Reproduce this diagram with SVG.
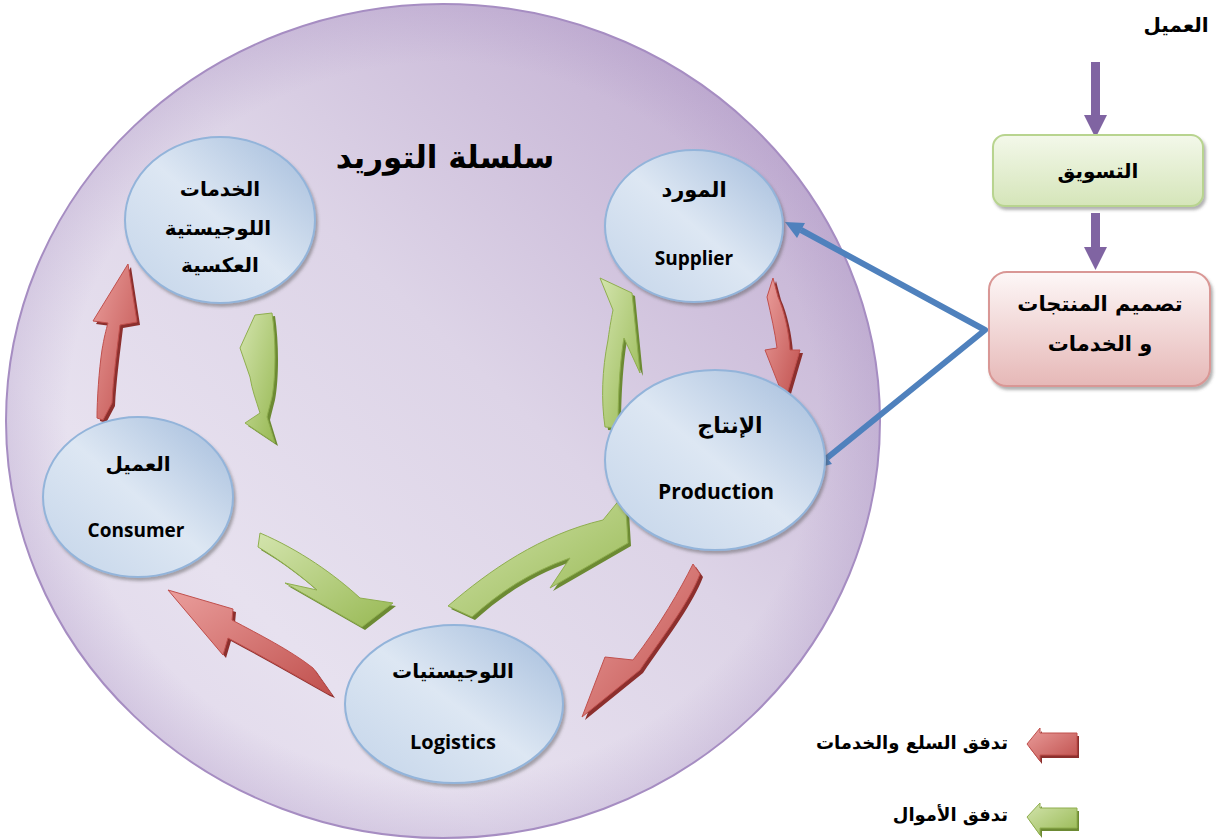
<svg xmlns="http://www.w3.org/2000/svg" width="1219" height="840" viewBox="0 0 1219 840">
  <style>
    .ar { font-family: "DejaVu Sans", "Noto Sans", sans-serif; font-weight: bold; fill: #000; text-anchor: middle; }
    .en { font-family: "Open Sans", "Liberation Sans", sans-serif; font-weight: bold; fill: #000; text-anchor: middle; }
    .node { fill: url(#nodeFill); stroke: #93b4da; stroke-width: 2; filter: url(#soft); }
    .red { fill: url(#redFill); stroke: #c0504d; stroke-width: 1; }
    .redShade { fill: #8c2f2d; }
    .green { fill: url(#greenFill); stroke: #8fae4f; stroke-width: 1; }
    .greenShade { fill: #6c8a33; }
    .purple { fill: #8064a2; }
    .blueLine { stroke: #4f81bd; stroke-width: 6; fill: none; stroke-linecap: butt; stroke-linejoin: round; }
    .blueHead { fill: #4f81bd; }
  </style>
  <defs>
    <linearGradient id="bigFill" x1="1" y1="0" x2="0" y2="1">
      <stop offset="0" stop-color="#b9a2cb"/>
      <stop offset="0.45" stop-color="#ddd4e7"/>
      <stop offset="0.72" stop-color="#e7e1ef"/>
      <stop offset="1" stop-color="#ddd3e8"/>
    </linearGradient>
    <radialGradient id="rimShade" cx="0.5" cy="0.5" r="0.5">
      <stop offset="0.86" stop-color="#a58cc0" stop-opacity="0"/>
      <stop offset="1" stop-color="#a58cc0" stop-opacity="0.25"/>
    </radialGradient>
    <linearGradient id="nodeFill" x1="1" y1="0" x2="0" y2="1">
      <stop offset="0" stop-color="#a2bbdb"/>
      <stop offset="0.5" stop-color="#dde7f3"/>
      <stop offset="1" stop-color="#c3d4e9"/>
    </linearGradient>
    <linearGradient id="redFill" x1="0" y1="0" x2="1" y2="1">
      <stop offset="0" stop-color="#ea9e9c"/>
      <stop offset="1" stop-color="#c0504d"/>
    </linearGradient>
    <linearGradient id="greenFill" x1="0" y1="0" x2="1" y2="1">
      <stop offset="0" stop-color="#d3e4ad"/>
      <stop offset="1" stop-color="#98b954"/>
    </linearGradient>
    <linearGradient id="mktFill" x1="0" y1="0" x2="0" y2="1">
      <stop offset="0" stop-color="#f3f8ea"/>
      <stop offset="1" stop-color="#d5e5b9"/>
    </linearGradient>
    <linearGradient id="designFill" x1="0" y1="0" x2="0" y2="1">
      <stop offset="0" stop-color="#fdf7f7"/>
      <stop offset="1" stop-color="#e6b8b7"/>
    </linearGradient>
    <filter id="soft" x="-20%" y="-20%" width="140%" height="140%">
      <feDropShadow dx="2" dy="3" stdDeviation="1.5" flood-color="#555" flood-opacity="0.45"/>
    </filter>
  </defs>

  <!-- supply chain boundary -->
  <g id="supply-chain">
    <ellipse cx="443" cy="421" rx="437" ry="417" fill="url(#bigFill)"/>
    <ellipse cx="443" cy="421" rx="437" ry="417" fill="url(#rimShade)" stroke="#a68dc2" stroke-width="2"/>
    <text class="ar" x="445" y="168" font-size="31">سلسلة التوريد</text>
  </g>

  <!-- flow arrows -->
  <g id="connectors">
    <!-- money flow (green) -->
    <g transform="translate(3,3)">
      <path class="greenShade" d="M600,278 L632,293 L640,373 L624,338 C620,360 618,395 618,428 L605,427 C601,400 602,370 608,340 C610,325 612,315 613,310 Z"/>
      <path class="greenShade" d="M448,606 C490,570 540,535 603,520 L625,493 L628,543 L550,588 L570,558 C530,572 500,592 472,617 Z"/>
      <path class="greenShade" d="M260,533 C300,550 335,575 360,598 L393,603 L362,627 L285,583 L317,590 C300,575 280,560 258,547 Z"/>
      <path class="greenShade" d="M255,315 L272,313 C276,340 276,375 272,397 C270,405 268,412 267,417 L275,443 L245,423 L260,413 C256,400 252,390 250,377 L240,348 Z"/>
    </g>
    <path class="green" d="M600,278 L632,293 L640,373 L624,338 C620,360 618,395 618,428 L605,427 C601,400 602,370 608,340 C610,325 612,315 613,310 Z"/>
    <path class="green" d="M448,606 C490,570 540,535 603,520 L625,493 L628,543 L550,588 L570,558 C530,572 500,592 472,617 Z"/>
    <path class="green" d="M260,533 C300,550 335,575 360,598 L393,603 L362,627 L285,583 L317,590 C300,575 280,560 258,547 Z"/>
    <path class="green" d="M255,315 L272,313 C276,340 276,375 272,397 C270,405 268,412 267,417 L275,443 L245,423 L260,413 C256,400 252,390 250,377 L240,348 Z"/>

    <!-- goods and services flow (red) -->
    <g transform="translate(3,3)">
      <path class="redShade" d="M773,278 L767,297 C771,315 775,332 777,348 L765,350 L785,401 L800,350 L790,350 C789,332 784,310 778,297 Z"/>
      <path class="redShade" d="M693,564 C680,590 660,625 633,660 L605,657 L582,717 L640,670 L644,664 C668,630 690,600 700,574 Z"/>
      <path class="redShade" d="M168,590 L233,609 L232,620 C260,635 290,650 313,668 L332,695 L327,693 C295,675 260,655 228,638 L223,655 Z"/>
      <path class="redShade" d="M128,264 L137,322 L120,325 C117,350 113,380 112,403 L103,420 L97,418 C97,400 99,370 102,350 C104,338 106,330 108,323 L93,321 Z"/>
    </g>
    <path class="red" d="M773,278 L767,297 C771,315 775,332 777,348 L765,350 L785,401 L800,350 L790,350 C789,332 784,310 778,297 Z"/>
    <path class="red" d="M693,564 C680,590 660,625 633,660 L605,657 L582,717 L640,670 L644,664 C668,630 690,600 700,574 Z"/>
    <path class="red" d="M168,590 L233,609 L232,620 C260,635 290,650 313,668 L332,695 L327,693 C295,675 260,655 228,638 L223,655 Z"/>
    <path class="red" d="M128,264 L137,322 L120,325 C117,350 113,380 112,403 L103,420 L97,418 C97,400 99,370 102,350 C104,338 106,330 108,323 L93,321 Z"/>

    <!-- design feeds supplier and production -->
    <polyline class="blueLine" points="801,230 985,330 827,458"/>
    <path class="blueHead" d="M785,222 L805,223 L797,238 Z"/>
    <path class="blueHead" d="M813,469 L822,451 L832,464 Z"/>

    <!-- customer to marketing to design -->
    <rect class="purple" x="1091" y="62" width="9" height="54"/>
    <path class="purple" d="M1084,115 L1107,115 L1095.5,138 Z"/>
    <rect class="purple" x="1091" y="213" width="9" height="35"/>
    <path class="purple" d="M1084,247 L1107,247 L1095.5,270 Z"/>
  </g>

  <!-- nodes -->
  <g id="node-reverse-logistics">
    <ellipse class="node" cx="220" cy="220" rx="95" ry="83"/>
    <text class="ar" x="220" y="196" font-size="20">الخدمات</text>
    <text class="ar" x="218" y="235" font-size="20">اللوجيستية</text>
    <text class="ar" x="220" y="272" font-size="20">العكسية</text>
  </g>
  <g id="node-supplier">
    <ellipse class="node" cx="694" cy="226" rx="89" ry="76"/>
    <text class="ar" x="694" y="197" font-size="21">المورد</text>
    <text class="en" x="694" y="265" font-size="19">Supplier</text>
  </g>
  <g id="node-production">
    <ellipse class="node" cx="715" cy="460" rx="110" ry="90"/>
    <text class="ar" x="730" y="433" font-size="22">الإنتاج</text>
    <text class="en" x="716" y="499" font-size="21">Production</text>
  </g>
  <g id="node-consumer">
    <ellipse class="node" cx="138" cy="497" rx="95" ry="80"/>
    <text class="ar" x="138" y="471" font-size="20">العميل</text>
    <text class="en" x="136" y="537" font-size="19">Consumer</text>
  </g>
  <g id="node-logistics">
    <ellipse class="node" cx="454" cy="704" rx="109" ry="79"/>
    <text class="ar" x="453" y="678" font-size="20">اللوجيستيات</text>
    <text class="en" x="453" y="749" font-size="20">Logistics</text>
  </g>

  <!-- customer-driven design chain -->
  <g id="node-customer-top">
    <text class="ar" x="1176" y="32" font-size="20">العميل</text>
  </g>
  <g id="node-marketing">
    <rect x="993" y="135" width="210" height="71" rx="12" fill="url(#mktFill)" stroke="#b8d48f" stroke-width="2" filter="url(#soft)"/>
    <text class="ar" x="1098" y="178" font-size="20">التسويق</text>
  </g>
  <g id="node-design">
    <rect x="989" y="272" width="221" height="114" rx="18" fill="url(#designFill)" stroke="#d99795" stroke-width="2" filter="url(#soft)"/>
    <text class="ar" x="1100" y="311" font-size="21">تصميم المنتجات</text>
    <text class="ar" x="1100" y="351" font-size="21">و الخدمات</text>
  </g>

  <!-- legend -->
  <g id="legend">
    <path class="redShade" transform="translate(2,3)" d="M1027,744 L1040,728 L1040,733 L1077,733 L1077,755 L1040,755 L1040,761 Z"/>
    <path class="red" d="M1027,744 L1040,728 L1040,733 L1077,733 L1077,755 L1040,755 L1040,761 Z"/>
    <text class="ar" x="1008" y="749" font-size="18" style="text-anchor:end">تدفق السلع والخدمات</text>
    <path class="greenShade" transform="translate(2,3)" d="M1027,817 L1040,803 L1040,808 L1077,808 L1077,828 L1040,828 L1040,835 Z"/>
    <path class="green" d="M1027,817 L1040,803 L1040,808 L1077,808 L1077,828 L1040,828 L1040,835 Z"/>
    <text class="ar" x="1008" y="821" font-size="18" style="text-anchor:end">تدفق الأموال</text>
  </g>
</svg>
